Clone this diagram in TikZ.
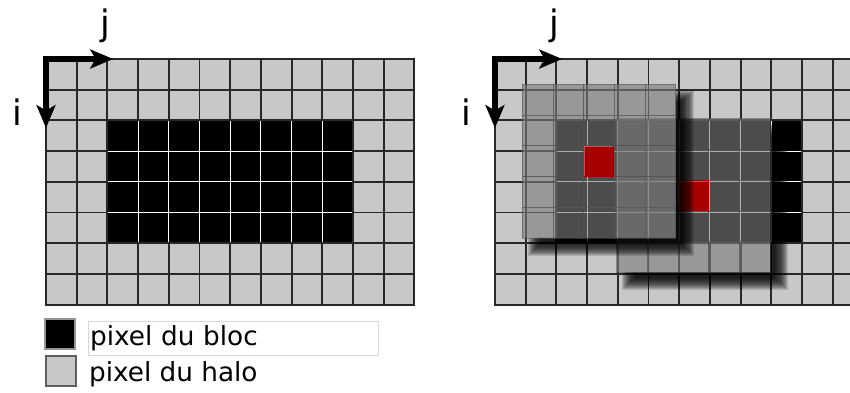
\documentclass[tikz,border=0pt]{standalone}
\usepackage{fontspec}
\setmainfont{DejaVu Sans}
\definecolor{halogray}{RGB}{200,200,200}
\definecolor{gridline}{RGB}{40,40,40}
\definecolor{winfill}{RGB}{124,124,124}
\definecolor{winline}{RGB}{80,80,80}
\definecolor{pixred}{RGB}{166,0,0}
\definecolor{pixredlight}{RGB}{225,70,70}
\definecolor{legblocline}{RGB}{150,150,150}
\definecolor{leghaloline}{RGB}{95,95,95}
\definecolor{boxline}{RGB}{215,215,215}
\usetikzlibrary{arrows.meta}

\begin{document}
\begin{tikzpicture}[x=0.8cm, y=-0.8cm,
    axtip/.tip={Stealth[length=17pt,width=14pt,inset=4pt]},
    halocell/.style={fill=halogray, draw=gridline, line width=1.4pt},
    blocline/.style={draw=white, line width=0.7pt},
    axis/.style={line width=4.8pt, line join=miter, axtip-axtip},
    axlabel/.style={font=\fontsize{26}{30}\selectfont, inner sep=0pt, anchor=base},
    wincell/.style={fill=winfill, fill opacity=0.62, draw=winline, draw opacity=0.55, line width=0.6pt},
    legsq/.style={minimum size=0.78cm, inner sep=0pt, line width=1.5pt},
    legtext/.style={font=\fontsize{19.5}{24}\selectfont, inner sep=1pt}]
  \useasboundingbox (-1.498,-1.922) rectangle (26.19,10.847);
  \clip (-1.498,-1.922) rectangle (26.19,10.847);

  % the two pixel grids, block in black, axes i and j
  \foreach \p/\gx in {L/0, R/14.625} {
    \begin{scope}[shift={(\gx,0)}]
      \foreach \c in {0,...,11}
        \foreach \r in {0,...,7}
          \draw[halocell] (\c,\r) rectangle ++(1,1);
      \fill[black] (2,2) rectangle (10,6);
      \foreach \c in {3,...,9}
        \draw[blocline] (\c,2) -- (\c,6);
      \foreach \r in {3,4,5}
        \draw[blocline] (2,\r) -- (10,\r);
      \draw[draw=gridline, line width=1.4pt] (2,2) rectangle (10,6);
      \coordinate (org\p) at (0,0);
      \coordinate (jend\p) at (2.19,0);
      \coordinate (iend\p) at (0,2.25);
      \draw[axis] (jend\p) -- (org\p) -- (iend\p);
      \node[axlabel] (jlab\p) at (1.95,-0.75) {j};
      \node[axlabel] (ilab\p) at (-0.93,2.15) {i};
    \end{scope}
  }

  % the two windows on the right grid, the lower one first
  \begin{scope}[shift={(14.625,0)}]
    \foreach \wx/\wy in {3.96/1.95, 0.89/0.83} {
      \begin{scope}[shift={(\wx,\wy)}]
        % soft shadow, kept outside the window
        \begin{scope}
          \clip (-1,-1) rectangle (7,7) (5,0) rectangle (0,5);
          \foreach \e in {-6,...,6}
            \fill[black, opacity=0.13] ({0.38-0.035*\e},{0.38-0.035*\e}) rectangle ({5.38+0.035*\e},{5.38+0.035*\e});
        \end{scope}
        \foreach \c in {0,...,4}
          \foreach \r in {0,...,4}
            \draw[wincell] (\c,\r) rectangle ++(1,1);
        \fill[pixred] (2,2) rectangle (3,3);
        \draw[pixredlight, line width=1pt] (2.03,2.97) -- (2.03,2.03) -- (2.97,2.03);
      \end{scope}
    }
  \end{scope}

  % legend
  \node[legsq, fill=black, draw=legblocline] (sqbloc) at (0.47,8.96) {};
  \node[legsq, fill=halogray, draw=leghaloline] (sqhalo) at (0.49,10.15) {};
  \node[legtext, draw=boxline, fill=white, anchor=west, minimum width=7.56cm,
        minimum height=0.886cm, text width=7.48cm, align=left] (txtbloc) at (1.378,9.085) {pixel du bloc};
  \node[legtext, anchor=base west] (txthalo) at (1.35,10.51) {pixel du halo};
\end{tikzpicture}
\end{document}
